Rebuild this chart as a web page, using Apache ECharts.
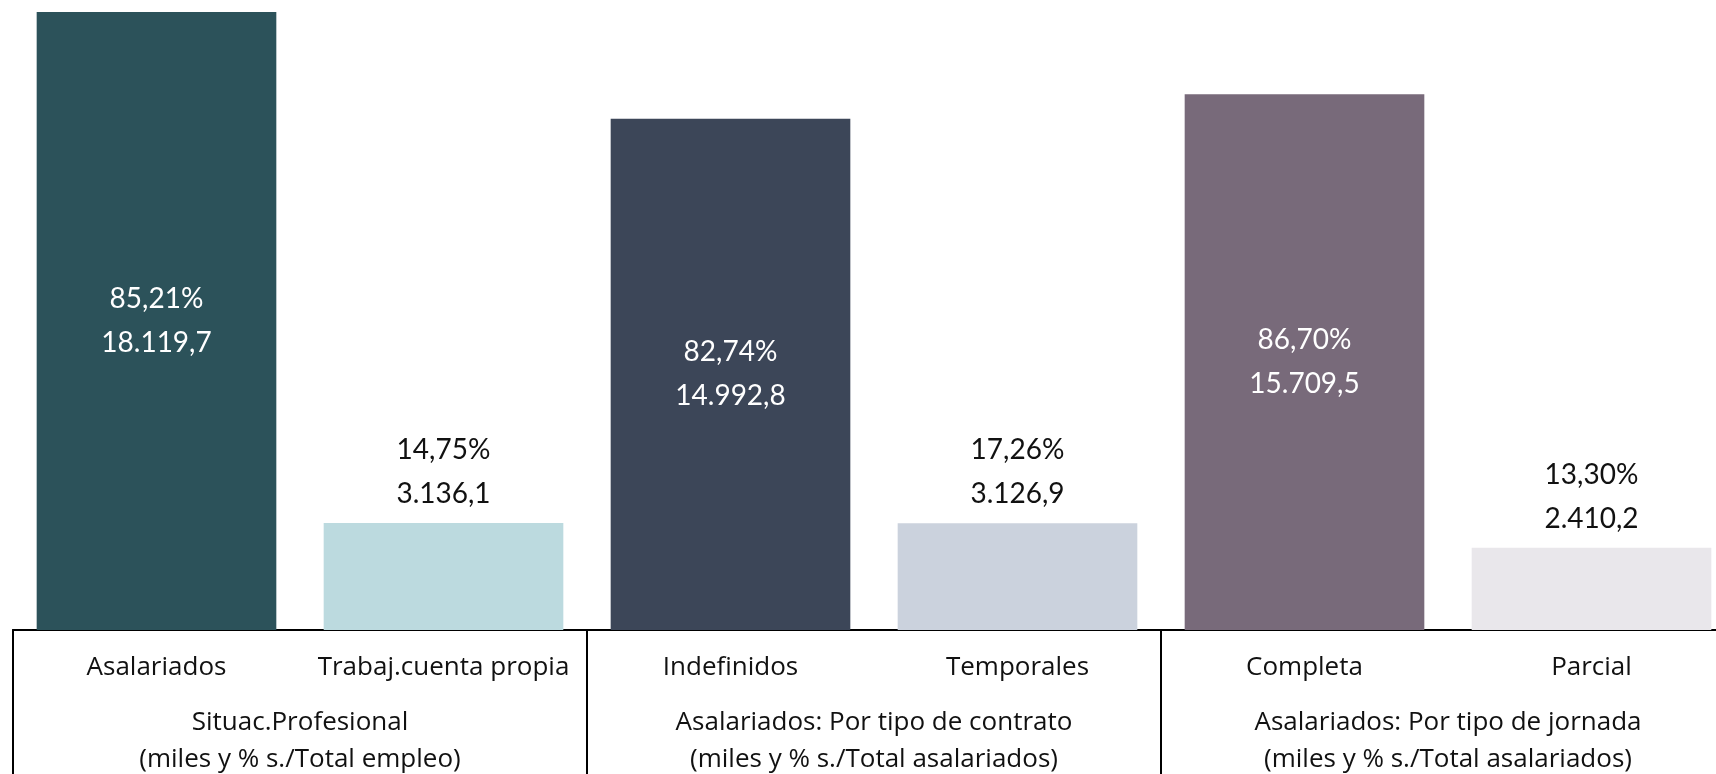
<!DOCTYPE html>
<html>
<head>
<meta charset="utf-8">
<style>
  html, body { margin: 0; padding: 0; background: #fff; }
  #chart { width: 1716px; height: 774px; }
</style>
</head>
<body>
<div id="chart"></div>
<script src="https://cdn.jsdelivr.net/npm/echarts@6/dist/echarts.min.js"></script>
<script>
// categorias y grupos del eje
var categorias = ['Asalariados', 'Trabaj.cuenta propia', 'Indefinidos', 'Temporales', 'Completa', 'Parcial'];
var grupos = [
    'Situac.Profesional\n(miles y % s./Total empleo)',
    'Asalariados: Por tipo de contrato\n(miles y % s./Total asalariados)',
    'Asalariados: Por tipo de jornada\n(miles y % s./Total asalariados)'
];
// valores en miles
var valores = [18119.7, 3136.1, 14992.8, 3126.9, 15709.5, 2410.2];
// porcentajes
var porcentajes = [85.21, 14.75, 82.74, 17.26, 86.70, 13.30];
var colores = ['#2c525a', '#bcdadf', '#3c4658', '#cbd2dd', '#786a7a', '#e9e7eb'];

var fuente = 'Open Sans';

// formato espanol: 18.119,7
function fmt(v, dec) {
    var partes = v.toFixed(dec).split('.');
    partes[0] = partes[0].replace(/\B(?=(\d{3})+(?!\d))/g, '.');
    return partes.join(',');
}

var chart = echarts.init(document.getElementById('chart'));

var datos = valores.map(function (v, i) {
    var dentro = v > 10000;
    return {
        value: v,
        itemStyle: { color: colores[i] },
        label: {
            position: dentro ? 'inside' : 'top',
            color: dentro ? '#ffffff' : '#111111'
        }
    };
});

var option = {
    animation: false,
    grid: { left: 13, width: 1722, top: 12, bottom: 144, outerBoundsMode: 'none', containLabel: false },
    xAxis: [{
        type: 'category',
        data: categorias,
        position: 'bottom',
        axisLine: { show: true, lineStyle: { color: '#000', width: 2 } },
        axisTick: { show: false },
        axisLabel: {
            interval: 0,
            margin: 25,
            fontFamily: fuente,
            fontSize: 26,
            color: '#111'
        }
    }, {
        type: 'category',
        data: grupos,
        position: 'bottom',
        axisLine: { show: true, lineStyle: { color: '#000', width: 2 } },
        axisTick: { show: true, length: 150, lineStyle: { color: '#000', width: 2 } },
        axisLabel: {
            interval: 0,
            margin: 74,
            fontFamily: fuente,
            fontSize: 26,
            lineHeight: 37,
            color: '#111'
        }
    }],
    yAxis: {
        type: 'value',
        min: 0,
        max: 'dataMax',
        show: false,
        splitLine: { show: false }
    },
    series: [{
        type: 'bar',
        xAxisIndex: 0,
        barWidth: '83.5%',
        data: datos,
        label: {
            show: true,
            distance: 7,
            fontFamily: 'Lato',
            fontSize: 28,
            lineHeight: 44,
            formatter: function (p) {
                return fmt(porcentajes[p.dataIndex], 2) + '%\n' + fmt(p.value, 1);
            }
        }
    }]
};

chart.setOption(option);
</script>
</body>
</html>
